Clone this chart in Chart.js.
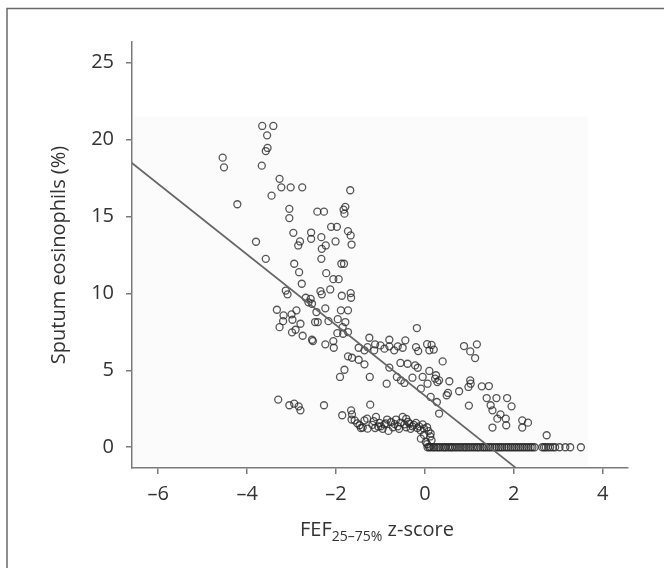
<!DOCTYPE html>
<html>
<head>
<meta charset="utf-8">
<script src="https://cdn.jsdelivr.net/npm/chart.js@4/dist/chart.umd.min.js"></script>
<style>
  body { margin: 0; background: #fff; }
  canvas { display: block; }
</style>
</head>
<body>
<canvas id="chart" width="664" height="568"></canvas>
<script>
// tick labels
const xTicks = [-6, -4, -2, 0, 2, 4];
const yTicks = [0, 5, 10, 15, 20, 25];

// [FEF25-75% z-score, sputum eosinophils %]
const upperGroup = [
  [-3.66, 20.89], [-3.41, 20.89], [-3.55, 20.28], [-3.54, 19.46], [-3.58, 19.26],
  [-4.55, 18.83], [-4.52, 18.2], [-3.67, 18.31], [-3.27, 17.45], [-3.23, 16.9],
  [-3.02, 16.9], [-2.76, 16.9], [-3.45, 16.36], [-4.22, 15.8], [-1.68, 16.71],
  [-3.05, 15.5], [-3.05, 14.9], [-2.42, 15.32], [-2.27, 15.32], [-1.79, 15.63],
  [-1.83, 15.45], [-1.81, 15.19], [-2.96, 13.94], [-2.56, 13.96], [-2.56, 13.55],
  [-2.33, 13.66], [-2.11, 14.33], [-1.98, 14.33], [-2.01, 13.38], [-1.73, 14.05],
  [-1.67, 13.77], [-1.65, 13.18], [-2.81, 13.38], [-2.85, 13.12], [-2.23, 13.12],
  [-2.32, 12.9], [-3.8, 13.36], [-3.58, 12.25], [-2.33, 12.25], [-2.94, 11.93],
  [-1.88, 11.93], [-1.82, 11.93], [-2.83, 11.38], [-2.22, 11.32]
];

const middleGroup = [
  [-2.06, 10.93], [-1.94, 10.93], [-2.77, 10.63], [-3.13, 10.19], [-3.09, 9.94],
  [-2.35, 10.15], [-2.32, 9.94], [-2.13, 10.26], [-1.87, 9.85], [-1.67, 10.02],
  [-1.66, 9.72], [-2.68, 9.72], [-2.57, 9.65], [-2.62, 9.42], [-2.54, 9.33],
  [-2.44, 8.79], [-2.24, 9.03], [-3.33, 8.94], [-3.18, 8.57], [-3.0, 8.64],
  [-2.89, 8.9], [-2.98, 8.29], [-3.19, 8.2], [-2.8, 8.03], [-3.27, 7.81],
  [-2.99, 7.47], [-2.91, 7.64], [-2.75, 7.25], [-2.47, 8.14], [-2.41, 8.14],
  [-2.17, 8.2], [-1.89, 8.9], [-1.73, 8.9], [-1.96, 8.33], [-1.79, 8.14],
  [-1.85, 7.81], [-1.97, 7.42], [-1.84, 7.38], [-1.73, 7.49], [-2.54, 6.99],
  [-2.52, 6.9], [-2.24, 6.69], [-2.06, 6.9], [-2.05, 6.47]
];

const centralGroup = [
  [-1.25, 7.12], [-1.49, 6.47], [-1.36, 6.3], [-1.29, 6.51], [-1.12, 6.69],
  [-1.14, 6.3], [-1.0, 6.62], [-0.91, 6.41], [-0.8, 6.99], [-0.8, 6.56],
  [-0.69, 6.3], [-0.61, 6.56], [-0.5, 6.47], [-0.44, 6.95], [-0.18, 7.75],
  [-0.2, 6.51], [-0.15, 6.25], [0.05, 6.7], [0.15, 6.65], [0.1, 6.3],
  [0.2, 6.35], [0.88, 6.58], [1.02, 6.23], [1.17, 6.69], [1.13, 5.8],
  [-1.73, 5.91], [-1.64, 5.82], [-1.49, 5.69], [-1.36, 5.39], [-1.81, 5.04],
  [-1.91, 4.57], [-1.24, 4.57], [-0.8, 5.18], [-0.86, 4.13], [-0.55, 5.48],
  [-0.39, 5.43], [-0.22, 5.32], [-0.16, 5.17], [-0.63, 4.57], [-0.54, 4.35],
  [-0.46, 4.18], [-0.28, 4.52], [-0.05, 4.57], [-0.09, 3.81], [0.1, 4.96],
  [0.13, 3.27], [0.27, 2.94], [0.32, 2.19], [0.23, 4.46], [0.32, 4.35],
  [0.4, 5.58], [0.25, 4.68], [0.28, 4.24], [0.55, 4.29], [0.06, 4.13],
  [1.02, 4.35], [1.03, 4.13], [0.98, 3.92], [0.52, 3.53], [0.49, 3.38],
  [0.77, 3.64], [1.28, 3.96], [1.44, 3.98], [1.39, 3.2], [1.61, 3.2],
  [1.85, 3.2], [1.48, 2.73], [1.95, 2.66], [0.99, 2.71], [1.52, 2.4],
  [1.7, 2.14], [1.63, 1.86], [1.82, 1.86], [1.83, 1.43], [1.52, 1.28],
  [2.19, 1.75], [2.32, 1.6], [2.19, 1.28], [2.74, 0.78]
];

const lowGroup = [
  [-3.3, 3.1], [-3.05, 2.73], [-2.94, 2.83], [-2.84, 2.66], [-2.8, 2.4],
  [-2.27, 2.73], [-1.23, 2.77], [-1.86, 2.08], [-1.66, 2.4], [-1.64, 2.14],
  [-1.58, 1.75], [-1.47, 1.43], [-1.36, 1.75], [-1.3, 1.86], [-1.4, 1.28],
  [-1.29, 1.21], [-1.1, 1.97], [-1.02, 1.58], [-0.99, 1.36], [-0.91, 1.49],
  [-0.82, 1.06], [-0.76, 1.64], [-0.65, 1.8], [-0.61, 1.36], [-0.5, 1.97],
  [-0.46, 1.49], [-0.35, 1.54], [-0.28, 1.36], [-0.2, 1.58], [-0.13, 1.36],
  [-0.05, 1.49], [-0.02, 1.21], [0.13, 0.89], [-0.09, 0.56], [0.02, 0.34],
  [0.1, 0.02], [-1.52, 1.55], [-1.44, 1.25], [-1.18, 1.45], [-1.12, 1.25],
  [-1.05, 1.35], [-0.95, 1.2], [-0.88, 1.55], [-0.72, 1.3], [-0.68, 1.5],
  [-0.58, 1.2], [-0.55, 1.6], [-0.42, 1.3], [-0.38, 1.65], [-0.32, 1.2],
  [-0.25, 1.45], [-0.17, 1.25], [-0.1, 1.1], [0.05, 1.3], [0.08, 1.05],
  [0.12, 0.7], [0.15, 0.45], [0.05, 0.2], [-0.02, 0.8], [-1.65, 1.8],
  [-1.15, 1.7], [-0.85, 1.8], [-0.42, 1.85]
];

// patients with 0% eosinophils
const zeroRowX = [
  0.06, 0.1, 0.14, 0.19, 0.22, 0.27, 0.31, 0.35, 0.4, 0.44, 0.47, 0.52, 0.56,
  0.6, 0.63, 0.68, 0.72, 0.77, 0.81, 0.86, 0.9, 0.94, 0.99, 1.03, 1.08, 1.12,
  1.17, 1.2, 1.25, 1.3, 1.34, 1.38, 1.43, 1.47, 1.52, 1.57, 1.61, 1.66, 1.7,
  1.74, 1.79, 1.84, 1.88, 1.93, 1.97, 2.02, 2.06, 2.11, 2.15, 2.2, 2.24, 2.29,
  2.33, 2.38, 2.42, 2.47, 2.64, 2.68, 2.72, 2.77, 2.82, 2.88, 2.93, 3.03,
  3.16, 3.27, 3.51
];

// regression line end points
const fitX = [-6.6, 2.04];
const fitY = [18.5, -1.33];

// faint shaded plot panel (data units)
const panelRight = 3.67;
const panelTop = 21.5;

const scatterPoints = [...upperGroup, ...middleGroup, ...centralGroup, ...lowGroup]
  .map(([x, y]) => ({ x, y }))
  .concat(zeroRowX.map(x => ({ x, y: 0 })));
const fitPoints = fitX.map((x, i) => ({ x, y: fitY[i] }));

const fontFamily = '"Open Sans", "Noto Sans", sans-serif';
const axisColor = '#7a7a7a';
const textColor = '#333';
const dash = v => (v < 0 ? '\u2013' + Math.abs(v) : String(v));

const panelPlugin = {
  id: 'panel',
  beforeDatasetsDraw(chart) {
    const { ctx, chartArea, scales } = chart;
    const right = scales.x.getPixelForValue(panelRight);
    const top = scales.y.getPixelForValue(panelTop);
    ctx.save();
    ctx.fillStyle = '#fbfbfb';
    ctx.fillRect(chartArea.left + 1, top, right - chartArea.left - 1, chartArea.bottom - top - 1);
    ctx.restore();
  }
};

const framePlugin = {
  id: 'frame',
  afterDraw(chart) {
    const { ctx, chartArea } = chart;
    ctx.save();
    // outer frame
    ctx.strokeStyle = '#6a6a6a';
    ctx.lineWidth = 1.5;
    ctx.beginPath();
    ctx.moveTo(7, 568);
    ctx.lineTo(7, 8.5);
    ctx.lineTo(664, 8.5);
    ctx.stroke();

    // x axis title with subscript
    const big = '20px ' + fontFamily;
    const small = '14px ' + fontFamily;
    ctx.fillStyle = textColor;
    ctx.textBaseline = 'alphabetic';
    ctx.font = big;
    const w1 = ctx.measureText('FEF').width;
    const w3 = ctx.measureText(' z-score').width;
    ctx.font = small;
    const w2 = ctx.measureText('25\u201375%').width;
    let x = (chartArea.left + chartArea.right) / 2 - 3 - (w1 + w2 + w3) / 2;
    const base = 536;
    ctx.font = big;
    ctx.fillText('FEF', x, base);
    x += w1;
    ctx.font = small;
    ctx.fillText('25\u201375%', x, base + 5);
    x += w2;
    ctx.font = big;
    ctx.fillText(' z-score', x, base);
    ctx.restore();
  }
};

new Chart(document.getElementById('chart').getContext('2d'), {
  type: 'scatter',
  data: {
    datasets: [
      {
        type: 'line',
        data: fitPoints,
        borderColor: '#666',
        borderWidth: 1.7,
        pointRadius: 0,
        fill: false,
        order: 0
      },
      {
        data: scatterPoints,
        pointStyle: 'circle',
        pointRadius: 3.5,
        borderWidth: 1.3,
        borderColor: 'rgba(40, 40, 40, 0.78)',
        backgroundColor: 'rgba(0, 0, 0, 0)',
        order: 1
      }
    ]
  },
  options: {
    responsive: false,
    animation: false,
    devicePixelRatio: 1,
    layout: { padding: { left: 0, top: 42, right: 36, bottom: 0 } },
    plugins: {
      legend: { display: false },
      tooltip: { enabled: false }
    },
    scales: {
      x: {
        type: 'linear',
        min: -6.59,
        max: 4.57,
        afterBuildTicks: scale => { scale.ticks = xTicks.map(v => ({ value: v })); },
        afterFit: scale => { scale.height = 100; },
        ticks: {
          callback: v => dash(v),
          color: textColor,
          font: { family: fontFamily, size: 20 },
          padding: 8,
          maxRotation: 0
        },
        grid: { drawOnChartArea: false, drawTicks: true, tickLength: 6, color: axisColor, lineWidth: 1.5 },
        border: { display: true, color: axisColor, width: 1.5 }
      },
      y: {
        type: 'linear',
        min: -1.35,
        max: 26.35,
        afterBuildTicks: scale => { scale.ticks = yTicks.map(v => ({ value: v })); },
        afterFit: scale => { scale.width = 132; },
        ticks: {
          callback: v => dash(v),
          color: textColor,
          font: { family: fontFamily, size: 20 },
          padding: 12
        },
        grid: { drawOnChartArea: false, drawTicks: true, tickLength: 6, color: axisColor, lineWidth: 1.5 },
        border: { display: true, color: axisColor, width: 1.5 },
        title: {
          display: true,
          text: 'Sputum eosinophils (%)',
          color: textColor,
          font: { family: fontFamily, size: 20 },
          padding: { top: 47, bottom: 0 }
        }
      }
    }
  },
  plugins: [panelPlugin, framePlugin]
});
</script>
</body>
</html>
